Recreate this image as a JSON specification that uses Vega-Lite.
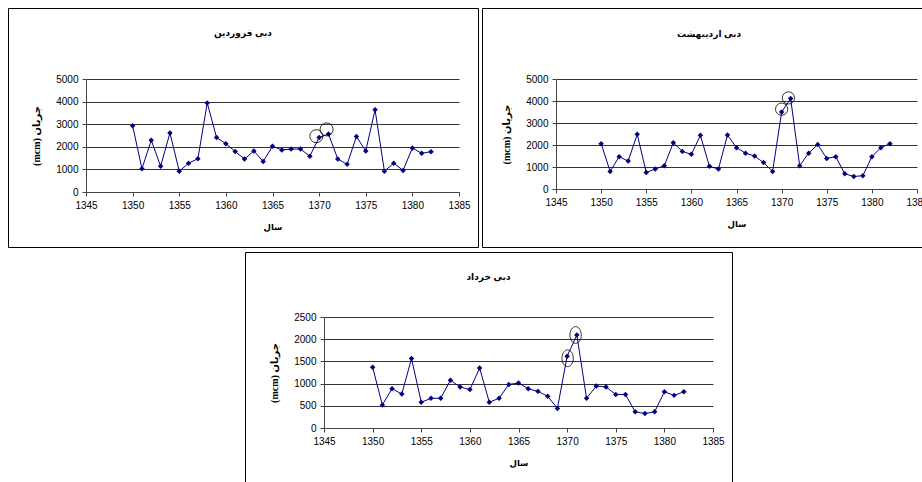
{
  "$schema": "https://vega.github.io/schema/vega-lite/v6.json",
  "padding": {"left": 7, "top": 7, "right": 0, "bottom": 0},
  "spacing": 3,
  "datasets": {
    "farvardin": [
      {"year": 1350, "value": 2930}, {"year": 1351, "value": 1030}, {"year": 1352, "value": 2290}, {"year": 1353, "value": 1140},
      {"year": 1354, "value": 2610}, {"year": 1355, "value": 920}, {"year": 1356, "value": 1275}, {"year": 1357, "value": 1470},
      {"year": 1358, "value": 3940}, {"year": 1359, "value": 2410}, {"year": 1360, "value": 2140}, {"year": 1361, "value": 1790},
      {"year": 1362, "value": 1460}, {"year": 1363, "value": 1815}, {"year": 1364, "value": 1350}, {"year": 1365, "value": 2025},
      {"year": 1366, "value": 1860}, {"year": 1367, "value": 1900}, {"year": 1368, "value": 1900}, {"year": 1369, "value": 1585},
      {"year": 1370, "value": 2410}, {"year": 1371, "value": 2570}, {"year": 1372, "value": 1460}, {"year": 1373, "value": 1225},
      {"year": 1374, "value": 2455}, {"year": 1375, "value": 1815}, {"year": 1376, "value": 3640}, {"year": 1377, "value": 920},
      {"year": 1378, "value": 1275}, {"year": 1379, "value": 955}, {"year": 1380, "value": 1950}, {"year": 1381, "value": 1710},
      {"year": 1382, "value": 1785}
    ],
    "ordibehesht": [
      {"year": 1350, "value": 2060}, {"year": 1351, "value": 800}, {"year": 1352, "value": 1470}, {"year": 1353, "value": 1270},
      {"year": 1354, "value": 2490}, {"year": 1355, "value": 750}, {"year": 1356, "value": 910}, {"year": 1357, "value": 1060},
      {"year": 1358, "value": 2100}, {"year": 1359, "value": 1710}, {"year": 1360, "value": 1575}, {"year": 1361, "value": 2440},
      {"year": 1362, "value": 1030}, {"year": 1363, "value": 910}, {"year": 1364, "value": 2450}, {"year": 1365, "value": 1880},
      {"year": 1366, "value": 1630}, {"year": 1367, "value": 1500}, {"year": 1368, "value": 1200}, {"year": 1369, "value": 800},
      {"year": 1370, "value": 3500}, {"year": 1371, "value": 4110}, {"year": 1372, "value": 1060}, {"year": 1373, "value": 1630},
      {"year": 1374, "value": 2020}, {"year": 1375, "value": 1390}, {"year": 1376, "value": 1470}, {"year": 1377, "value": 690},
      {"year": 1378, "value": 570}, {"year": 1379, "value": 605}, {"year": 1380, "value": 1470}, {"year": 1381, "value": 1880},
      {"year": 1382, "value": 2060}
    ],
    "khordad": [
      {"year": 1350, "value": 1370}, {"year": 1351, "value": 520}, {"year": 1352, "value": 885}, {"year": 1353, "value": 765},
      {"year": 1354, "value": 1565}, {"year": 1355, "value": 580}, {"year": 1356, "value": 670}, {"year": 1357, "value": 670},
      {"year": 1358, "value": 1075}, {"year": 1359, "value": 925}, {"year": 1360, "value": 865}, {"year": 1361, "value": 1350},
      {"year": 1362, "value": 580}, {"year": 1363, "value": 670}, {"year": 1364, "value": 980}, {"year": 1365, "value": 1015},
      {"year": 1366, "value": 885}, {"year": 1367, "value": 825}, {"year": 1368, "value": 715}, {"year": 1369, "value": 440},
      {"year": 1370, "value": 1615}, {"year": 1371, "value": 2095}, {"year": 1372, "value": 670}, {"year": 1373, "value": 945},
      {"year": 1374, "value": 925}, {"year": 1375, "value": 755}, {"year": 1376, "value": 755}, {"year": 1377, "value": 365},
      {"year": 1378, "value": 325}, {"year": 1379, "value": 365}, {"year": 1380, "value": 815}, {"year": 1381, "value": 735},
      {"year": 1382, "value": 815}
    ],
    "rings": [
      {"panel": "farvardin", "year": 1369.7, "value": 2470},
      {"panel": "farvardin", "year": 1370.8, "value": 2770},
      {"panel": "ordibehesht", "year": 1370.0, "value": 3630},
      {"panel": "ordibehesht", "year": 1370.75, "value": 4140},
      {"panel": "khordad", "year": 1370.05, "value": 1570},
      {"panel": "khordad", "year": 1370.87, "value": 2095}
    ]
  },
  "vconcat": [
    {
      "spacing": 2,
      "hconcat": [
        {
          "width": 470,
          "height": 239,
          "title": {"text": "دبی فروردین", "offset": -30},
          "data": {"name": "farvardin"},
          "encoding": {
            "x": {"field": "year", "type": "quantitative",
              "scale": {"domain": [1345, 1385], "range": [78, 451], "nice": false, "zero": false},
              "axis": {"values": [1345, 1350, 1355, 1360, 1365, 1370, 1375, 1380, 1385], "format": "d", "offset": -55, "title": "سال"}},
            "y": {"field": "value", "type": "quantitative",
              "scale": {"domain": [0, 5000], "range": [184, 71], "nice": false},
              "axis": {"values": [0, 1000, 2000, 3000, 4000, 5000], "format": "d", "offset": -78, "title": "(mcm) جریان", "grid": true}}
          },
          "layer": [
            {"mark": {"type": "line", "color": "#000080", "strokeWidth": 1}},
            {"mark": {"type": "point", "shape": "diamond", "filled": true, "size": 30, "color": "#000080", "opacity": 1}},
            {"data": {"name": "rings"}, "transform": [{"filter": "datum.panel === 'farvardin'"}],
              "mark": {"type": "point", "shape": "circle", "filled": false, "color": "#000", "strokeWidth": 0.8, "size": 170, "opacity": 1}}
          ]
        },
        {
          "width": 454,
          "height": 239,
          "title": {"text": "دبی اردیبهشت", "offset": -31},
          "data": {"name": "ordibehesht"},
          "encoding": {
            "x": {"field": "year", "type": "quantitative",
              "scale": {"domain": [1345, 1385], "range": [74, 435], "nice": false, "zero": false},
              "axis": {"values": [1345, 1350, 1355, 1360, 1365, 1370, 1375, 1380, 1385], "format": "d", "offset": -58, "title": "سال"}},
            "y": {"field": "value", "type": "quantitative",
              "scale": {"domain": [0, 5000], "range": [181, 71], "nice": false},
              "axis": {"values": [0, 1000, 2000, 3000, 4000, 5000], "format": "d", "offset": -74, "title": "(mcm) جریان", "grid": true}}
          },
          "layer": [
            {"mark": {"type": "line", "color": "#000080", "strokeWidth": 1}},
            {"mark": {"type": "point", "shape": "diamond", "filled": true, "size": 30, "color": "#000080", "opacity": 1}},
            {"data": {"name": "rings"}, "transform": [{"filter": "datum.panel === 'ordibehesht'"}],
              "mark": {"type": "point", "shape": "circle", "filled": false, "color": "#000", "strokeWidth": 0.8, "size": 150, "opacity": 1}}
          ]
        }
      ]
    },
    {
      "spacing": 4,
      "hconcat": [
        {
          "width": 232,
          "height": 10,
          "data": {"values": [{"k": 1}]},
          "mark": {"type": "point", "opacity": 0},
          "encoding": {},
          "view": {"stroke": null}
        },
        {
          "width": 487,
          "height": 240,
          "title": {"text": "دبی خرداد", "offset": -30},
          "data": {"name": "khordad"},
          "encoding": {
            "x": {"field": "year", "type": "quantitative",
              "scale": {"domain": [1345, 1385], "range": [79, 468], "nice": false, "zero": false},
              "axis": {"values": [1345, 1350, 1355, 1360, 1365, 1370, 1375, 1380, 1385], "format": "d", "offset": -64, "title": "سال"}},
            "y": {"field": "value", "type": "quantitative",
              "scale": {"domain": [0, 2500], "range": [176, 65], "nice": false},
              "axis": {"values": [0, 500, 1000, 1500, 2000, 2500], "format": "d", "offset": -79, "title": "(mcm) جریان", "grid": true}}
          },
          "layer": [
            {"mark": {"type": "line", "color": "#000080", "strokeWidth": 1}},
            {"mark": {"type": "point", "shape": "diamond", "filled": true, "size": 30, "color": "#000080", "opacity": 1}},
            {"data": {"name": "rings"}, "transform": [{"filter": "datum.panel === 'khordad'"}],
              "mark": {"type": "point", "shape": "M-0.68,0A0.68,1,0,1,1,0.68,0A0.68,1,0,1,1,-0.68,0Z", "filled": false, "color": "#000", "strokeWidth": 0.8, "size": 280, "opacity": 1}}
          ]
        }
      ]
    }
  ],
  "config": {
    "view": {"stroke": "#000", "strokeWidth": 1},
    "axis": {
      "labelFont": "Liberation Sans", "labelFontSize": 10, "labelColor": "#000",
      "domainColor": "#444", "tickColor": "#444", "tickSize": 4,
      "titleFont": "Liberation Serif, DejaVu Sans", "titleFontSize": 10, "titleFontWeight": "bold", "titleColor": "#000",
      "gridColor": "#333", "gridWidth": 1, "labelOverlap": false, "labelFlush": false
    },
    "axisX": {"labelPadding": 4, "titlePadding": 12, "grid": false, "titleFontSize": 8.5},
    "axisY": {"labelPadding": 4, "titlePadding": 14},
    "title": {"font": "Liberation Sans, DejaVu Sans", "fontSize": 9, "fontWeight": "bold", "color": "#000", "anchor": "middle", "frame": "group"}
  }
}
